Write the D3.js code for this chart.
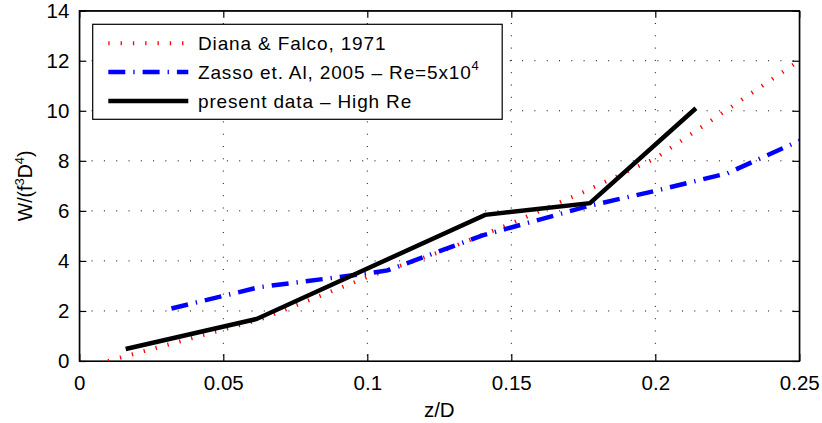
<!DOCTYPE html>
<html>
<head>
<meta charset="utf-8">
<script src="https://cdn.jsdelivr.net/npm/d3@7"></script>
<style>
body { margin: 0; background: #fff; }
text { font-family: "Liberation Sans", Arial, sans-serif; }
</style>
</head>
<body>
<div id="chart"></div>
<script>
var width = 822;
var height = 423;
var margin = {left: 79.3, right: 22.7, top: 10.7, bottom: 62};
var fontSize = 20.5;
var legFont = 19;

// Diana & Falco, 1971
var dianaX = [0.01, 0.0625, 0.1, 0.125, 0.15, 0.175, 0.2, 0.25];
var dianaY = [0, 1.65, 3.35, 4.35, 5.5, 6.75, 8.1, 12.0];

// Zasso et. Al, 2005
var zassoX = [0.032, 0.0625, 0.1, 0.107, 0.14, 0.177, 0.2, 0.225, 0.25];
var zassoY = [2.1, 2.95, 3.5, 3.62, 5.02, 6.2, 6.8, 7.5, 8.8];

// present data
var presentX = [0.0161, 0.0616, 0.1409, 0.1773, 0.2141];
var presentY = [0.48, 1.68, 5.84, 6.31, 10.1];

var xTicks = [0, 0.05, 0.1, 0.15, 0.2, 0.25];
var xTickLabels = ["0", "0.05", "0.1", "0.15", "0.2", "0.25"];
var yTicks = [0, 2, 4, 6, 8, 10, 12, 14];

var w = width - margin.left - margin.right;
var h = height - margin.top - margin.bottom;

var svg = d3.select("#chart").append("svg")
    .attr("width", width)
    .attr("height", height);

var vis = svg.append("g")
    .attr("transform", "translate(" + margin.left + "," + margin.top + ")");

var x = d3.scaleLinear().domain([0, 0.25]).range([0, w]);
var y = d3.scaleLinear().domain([0, 14]).range([h, 0]);

// grid
vis.selectAll(".vgrid")
    .data(xTicks.slice(1, -1))
    .enter().append("line")
    .attr("x1", function(d) { return x(d); })
    .attr("x2", function(d) { return x(d); })
    .attr("y1", 0).attr("y2", h)
    .style("stroke", "#000")
    .style("stroke-width", 1)
    .style("stroke-dasharray", "1,11.3");

vis.selectAll(".hgrid")
    .data(yTicks.slice(1, -1))
    .enter().append("line")
    .attr("y1", function(d) { return y(d); })
    .attr("y2", function(d) { return y(d); })
    .attr("x1", 0).attr("x2", w)
    .style("stroke", "#000")
    .style("stroke-width", 1)
    .style("stroke-dasharray", "1,11.3");

// axes (ticks inward, mirrored on top and right)
var tickLen = 7;
var xAxis = d3.axisBottom(x).tickValues(xTicks)
    .tickFormat(function(d, i) { return xTickLabels[i]; })
    .tickSizeInner(-tickLen).tickSizeOuter(0).tickPadding(14);
var yAxis = d3.axisLeft(y).tickValues(yTicks)
    .tickSizeInner(-tickLen).tickSizeOuter(0).tickPadding(10);

vis.append("g").attr("transform", "translate(0," + h + ")").call(xAxis);
vis.append("g").call(yAxis);
vis.append("g").call(d3.axisTop(x).tickValues(xTicks).tickFormat("")
    .tickSizeInner(-tickLen).tickSizeOuter(0));
vis.append("g").attr("transform", "translate(" + w + ",0)")
    .call(d3.axisRight(y).tickValues(yTicks).tickFormat("")
    .tickSizeInner(-tickLen).tickSizeOuter(0));

vis.selectAll(".domain").style("stroke", "#000").style("stroke-width", 1.2);
vis.selectAll(".tick line").style("stroke", "#000").style("stroke-width", 1.2);
vis.selectAll(".tick text")
    .style("font-size", fontSize + "px")
    .style("fill", "#000");

vis.append("rect")
    .attr("width", w).attr("height", h)
    .style("fill", "none")
    .style("stroke", "#000")
    .style("stroke-width", 1.2);

// clip
svg.append("defs").append("clipPath").attr("id", "clip")
    .append("rect").attr("width", w).attr("height", h);

var line = d3.line()
    .x(function(d) { return x(d[0]); })
    .y(function(d) { return y(d[1]); });

var series = [
    {name: "Diana & Falco, 1971", xs: dianaX, ys: dianaY,
     color: "#ff0000", width: 4, dash: "1.3,11"},
    {name: "Zasso", xs: zassoX, ys: zassoY,
     color: "#0000ff", width: 4.5, dash: "17,8,1.3,8"},
    {name: "present data \u2013 High Re", xs: presentX, ys: presentY,
     color: "#000000", width: 4.5, dash: null}
];

var plot = vis.append("g").attr("clip-path", "url(#clip)");
series.forEach(function(s) {
    var pts = s.xs.map(function(v, i) { return [v, s.ys[i]]; });
    plot.append("path")
        .datum(pts)
        .attr("d", line)
        .style("fill", "none")
        .style("stroke", s.color)
        .style("stroke-width", s.width)
        .style("stroke-dasharray", s.dash);
});

// legend
var leg = svg.append("g");
leg.append("rect")
    .attr("x", 92.7).attr("y", 24.3)
    .attr("width", 409.5).attr("height", 95)
    .style("fill", "#fff")
    .style("stroke", "#000")
    .style("stroke-width", 1.2);

var rowY = [43.3, 72, 101];
series.forEach(function(s, i) {
    leg.append("line")
        .attr("x1", 108.3).attr("x2", 188.3)
        .attr("y1", rowY[i]).attr("y2", rowY[i])
        .style("stroke", s.color)
        .style("stroke-width", s.width)
        .style("stroke-dasharray", s.dash);
});

function legText(i) {
    return leg.append("text")
        .attr("x", 198).attr("y", rowY[i] + 6.5)
        .style("font-size", legFont + "px")
        .style("letter-spacing", "0.85px");
}
legText(0).text(series[0].name);
var t1 = legText(1);
t1.append("tspan").text("Zasso et. Al, 2005 \u2013 Re=5x10");
t1.append("tspan").attr("dy", -9).style("font-size", "13px").text("4");
legText(2).text(series[2].name);

// axis labels
svg.append("text")
    .attr("x", margin.left + w / 2).attr("y", 417)
    .attr("text-anchor", "middle")
    .style("font-size", fontSize + "px")
    .text("z/D");

var yl = svg.append("text")
    .attr("transform", "translate(32," + (margin.top + h / 2) + ") rotate(-90)")
    .attr("text-anchor", "middle")
    .style("font-size", "19.5px");
yl.append("tspan").text("W/(f");
yl.append("tspan").attr("dy", -8).style("font-size", "13px").text("3");
yl.append("tspan").attr("dy", 8).text("D");
yl.append("tspan").attr("dy", -8).style("font-size", "13px").text("4");
yl.append("tspan").attr("dy", 8).text(")");
</script>
</body>
</html>
